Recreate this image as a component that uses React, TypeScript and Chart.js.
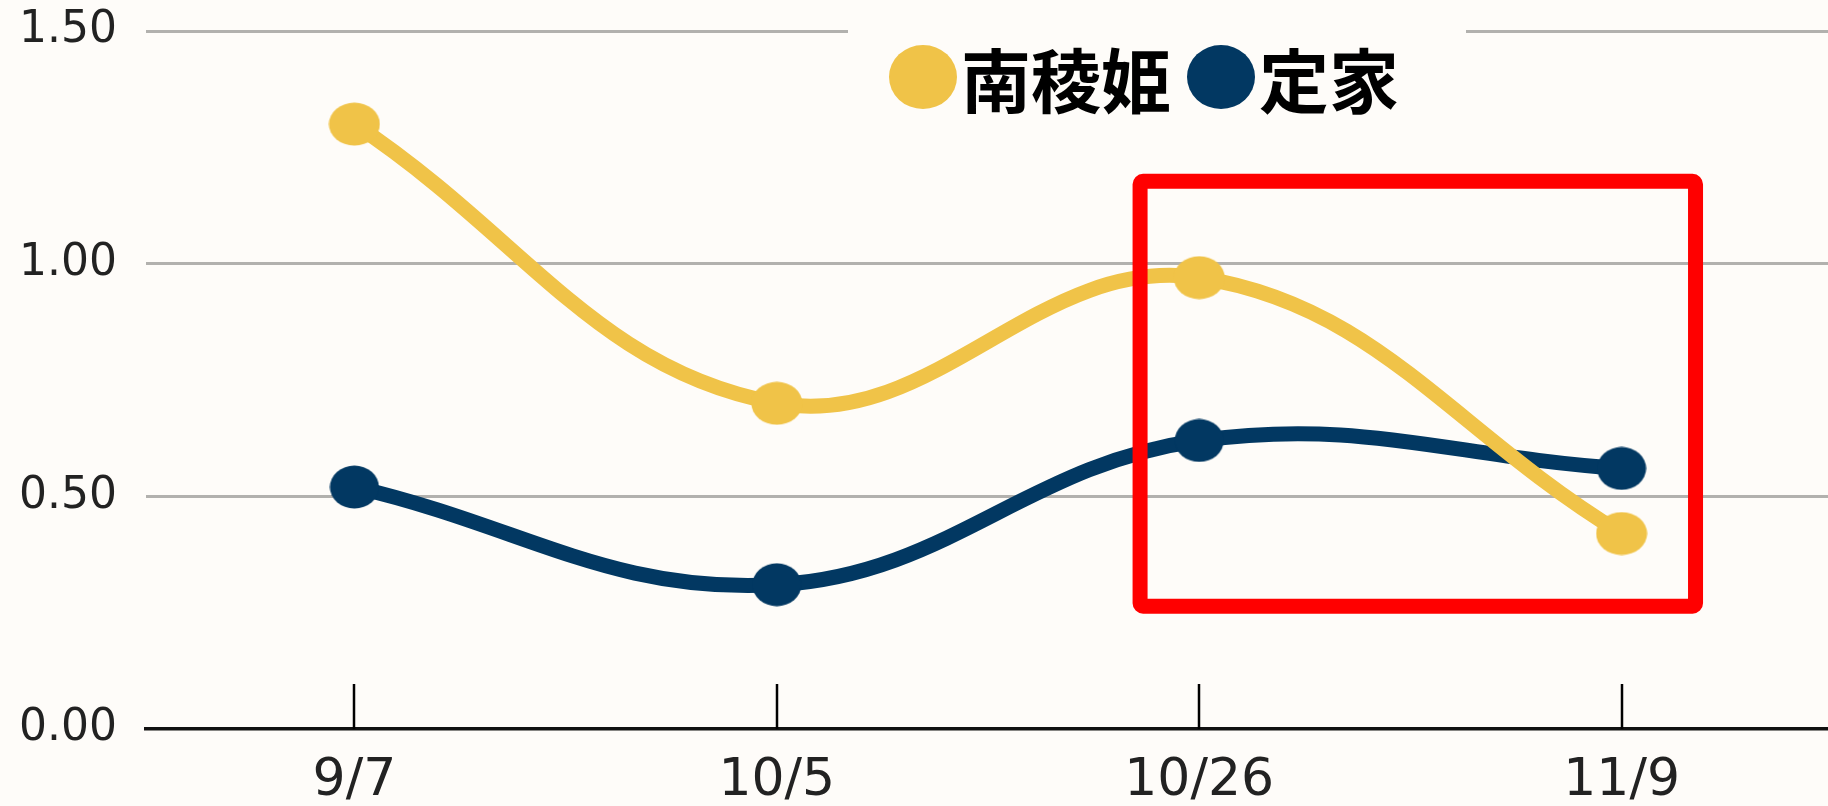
import React, { useEffect, useRef } from "react";
import { Chart, registerables } from "chart.js";

Chart.register(...registerables);

// ---- data ----
const categories = ["9/7", "10/5", "10/26", "11/9"];
const seriesNames = ["南稜姫", "定家"];
const nanryohimeValues = [1.3, 0.7, 0.97, 0.42];
const sadaieValues = [0.52, 0.31, 0.62, 0.56];
const yTickValues = [0, 0.5, 1.0, 1.5];
// highlighted region (data units: category index / value)
const highlightX = [1.86, 3.175];
const highlightY = [0.264, 1.177];

// ---- styles ----
const YELLOW = "#F0C348";
const NAVY = "#023862";
const BG = "#FEFCF9";
const W = 1828;
const H = 806;
const TICK_FONT = "'DejaVu Sans', 'Liberation Sans', sans-serif";

function ellipseStyle(color: string, rx: number, ry: number) {
  const c = document.createElement("canvas");
  c.width = rx * 2;
  c.height = ry * 2;
  const g = c.getContext("2d")!;
  g.fillStyle = color;
  g.beginPath();
  g.ellipse(rx, ry, rx - 0.5, ry - 0.5, 0, 0, Math.PI * 2);
  g.fill();
  return c;
}

const bgPlugin = {
  id: "bg",
  beforeDraw(chart: any) {
    const ctx = chart.ctx;
    ctx.save();
    ctx.fillStyle = BG;
    ctx.fillRect(0, 0, chart.width, chart.height);
    ctx.restore();
  },
};

const xTickMarks = {
  id: "xTickMarks",
  beforeDatasetsDraw(chart: any) {
    const ctx = chart.ctx;
    const xs = chart.scales.x;
    const bottom = chart.chartArea.bottom;
    ctx.save();
    ctx.strokeStyle = "#000";
    ctx.lineWidth = 2.5;
    xs.ticks.forEach((t: any, i: number) => {
      const px = Math.round(xs.getPixelForTick(i));
      ctx.beginPath();
      ctx.moveTo(px, bottom);
      ctx.lineTo(px, bottom - 45);
      ctx.stroke();
    });
    ctx.restore();
  },
};

const highlightBox = {
  id: "highlightBox",
  afterDatasetsDraw(chart: any) {
    const ctx = chart.ctx;
    const xs = chart.scales.x;
    const ys = chart.scales.y;
    const x1 = xs.getPixelForValue(highlightX[0]);
    const x2 = xs.getPixelForValue(highlightX[1]);
    const y1 = ys.getPixelForValue(highlightY[1]);
    const y2 = ys.getPixelForValue(highlightY[0]);
    ctx.save();
    ctx.strokeStyle = "#FF0000";
    ctx.lineWidth = 15;
    ctx.lineJoin = "round";
    ctx.beginPath();
    (ctx as any).roundRect(x1, y1, x2 - x1, y2 - y1, 3);
    ctx.stroke();
    ctx.restore();
  },
};

const customLegend = {
  id: "customLegend",
  afterDraw(chart: any) {
    const ctx = chart.ctx;
    ctx.save();
    ctx.fillStyle = BG;
    ctx.fillRect(848, 14, 618, 106);
    ctx.font = "bold 70px 'Noto Sans CJK JP'";
    ctx.textBaseline = "alphabetic";
    ctx.textAlign = "left";
    let x = 889;
    const cy = 77;
    chart.data.datasets.forEach((ds: any) => {
      ctx.fillStyle = ds.borderColor;
      ctx.beginPath();
      ctx.ellipse(x + 34, cy, 34, 32, 0, 0, Math.PI * 2);
      ctx.fill();
      x += 68 + 4;
      ctx.fillStyle = "#000";
      ctx.fillText(ds.label, x, 108);
      x += ctx.measureText(ds.label).width + 16;
    });
    ctx.restore();
  },
};

export default function App() {
  const ref = useRef<HTMLCanvasElement | null>(null);

  useEffect(() => {
    if (!ref.current) return;
    const toPoints = (vals: number[]) => vals.map((v, i) => ({ x: i, y: v }));
    const chart = new Chart(ref.current, {
      type: "line",
      data: {
        labels: categories,
        datasets: [
          {
            label: seriesNames[0],
            data: toPoints(nanryohimeValues),
            borderColor: YELLOW,
            backgroundColor: YELLOW,
            borderWidth: 15,
            tension: 0.4,
            pointRadius: 23,
            pointStyle: ellipseStyle(YELLOW, 26, 22) as any,
            fill: false,
          },
          {
            label: seriesNames[1],
            data: toPoints(sadaieValues),
            borderColor: NAVY,
            backgroundColor: NAVY,
            borderWidth: 15,
            tension: 0.4,
            pointRadius: 23,
            pointStyle: ellipseStyle(NAVY, 25, 22) as any,
            fill: false,
          },
        ],
      },
      options: {
        animation: false,
        responsive: false,
        maintainAspectRatio: false,
        layout: { autoPadding: false, padding: { top: 31, left: 0, right: 0, bottom: 0 } },
        plugins: {
          legend: { display: false },
          tooltip: { enabled: false },
        },
        scales: {
          x: {
            type: "linear",
            min: -0.4934,
            max: 3.4886,
            afterBuildTicks: (scale: any) => {
              scale.ticks = categories.map((_, i) => ({ value: i }));
            },
            afterFit: (scale: any) => {
              scale.height = 77;
              scale.paddingLeft = 0;
              scale.paddingRight = 0;
            },
            grid: { display: false, drawTicks: false },
            border: { display: true, color: "#111", width: 3.5 },
            ticks: {
              autoSkip: false,
              maxRotation: 0,
              padding: 21,
              color: "#222",
              font: { family: TICK_FONT, size: 52 },
              callback: (v: any) => categories[v as number] ?? "",
            },
          },
          y: {
            min: 0,
            max: 1.5,
            afterBuildTicks: (scale: any) => {
              scale.ticks = yTickValues.map((v) => ({ value: v }));
            },
            afterFit: (scale: any) => {
              scale.width = 146;
              scale.paddingTop = 0;
              scale.paddingBottom = 0;
            },
            grid: {
              drawTicks: false,
              lineWidth: 3,
              color: (c: any) => (c.tick && c.tick.value === 0 ? "rgba(0,0,0,0)" : "#B2B1AE"),
            },
            border: { display: false },
            ticks: {
              padding: 29,
              color: "#222",
              font: { family: TICK_FONT, size: 44 },
              callback: (v: any) => Number(v).toFixed(2),
            },
          },
        },
      },
      plugins: [bgPlugin, xTickMarks, highlightBox, customLegend],
    });
    return () => chart.destroy();
  }, []);

  return (
    <div
      style={{
        position: "absolute",
        left: 0,
        top: 0,
        width: W,
        height: H,
        background: BG,
        overflow: "hidden",
      }}
    >
      <canvas ref={ref} width={W} height={H} style={{ width: W, height: H, display: "block" }} />
    </div>
  );
}
